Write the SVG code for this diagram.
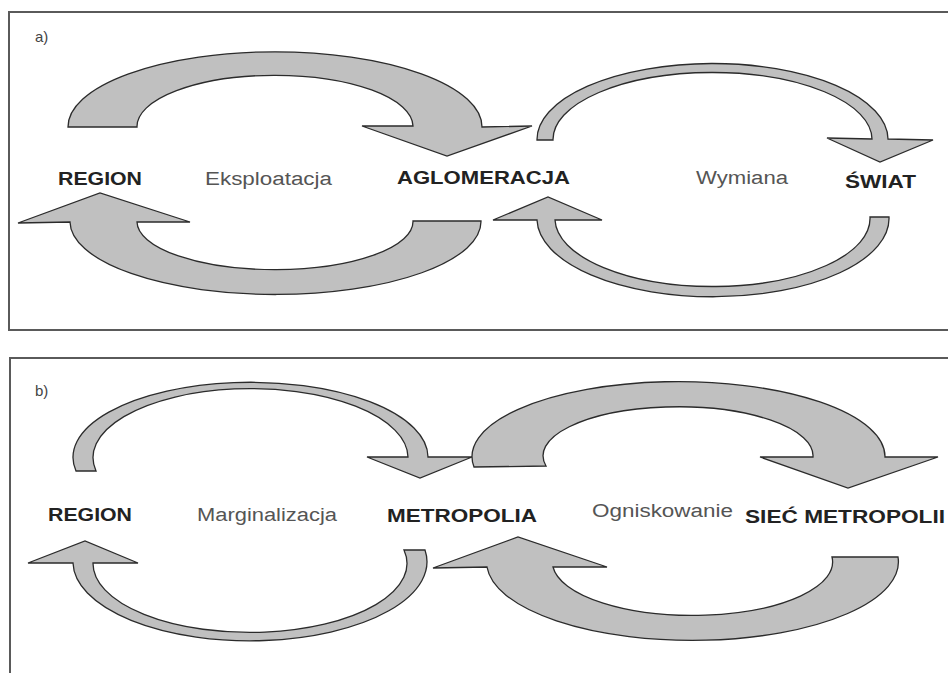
<svg xmlns="http://www.w3.org/2000/svg" width="948" height="673" viewBox="0 0 948 673">
<style>
.frame{fill:none;stroke:#5a5a5a;stroke-width:2}
.arr{fill:#c0c0c0;stroke:#2b2b2b;stroke-width:1.3;stroke-linejoin:miter}
.lbl{font-family:"Liberation Sans",Arial,sans-serif;font-size:15px;fill:#444}
.node{font-family:"Liberation Sans",Arial,sans-serif;font-size:18px;font-weight:bold;fill:#222}
.flow{font-family:"Liberation Sans",Arial,sans-serif;font-size:18px;fill:#555}
</style>
<rect x="0" y="0" width="948" height="673" fill="#ffffff"/>
<g id="panel-a">
<rect class="frame" x="9" y="12" width="960" height="318"/>
<text class="lbl" x="35" y="42">a)</text>
</g>
<g id="panel-b">
<rect class="frame" x="10" y="358" width="960" height="340"/>
<text class="lbl" x="35" y="396">b)</text>
</g>
<g id="connectors">
<path id="a-top-left" class="arr" d="M68,127 A206.5,75 0 0 1 482,127 L532,126 L447,156 L362,126 L413,126 A137.5,51 0 0 0 137,127 Z"/>
<path id="a-bottom-left" class="arr" d="M413,221 L481,221 A205.5,73 0 0 1 70,222 L18,223 L100,193 L190,222 L137,222 A137.5,48 0 0 0 413,221 Z"/>
<path id="a-top-right" class="arr" d="M537,140 A175.5,76 0 0 1 888,139 L933,140 L880,162 L827,138 L872,139 A159.5,67 0 0 0 553,140 Z"/>
<path id="a-bottom-right" class="arr" d="M870,217 L889,217 A175.5,78 0 0 1 537,220 L493,220 L548,197 L602,220 L555,220 A157.5,68 0 0 0 870,217 Z"/>
<path id="b-top-left" class="arr" d="M76,471 A177.5,75 0 1 1 428,457 L472,457 L420,478 L367,457 L408,457 A157.5,69 0 1 0 96,471 Z"/>
<path id="b-top-right" class="arr" d="M474,467 A206.5,75 0 1 1 885,457 L938,457 L848,488 L760,457 L813,457 A135,49 0 1 0 546,466 Z"/>
<path id="b-bottom-left" class="arr" d="M404,550 L425,550 A177,79 0 1 1 73,563 L28,563 L85,541 L138,563 L93,563 A157,69 0 1 0 404,550 Z"/>
<path id="b-bottom-right" class="arr" d="M832,557 L898,557 A205,78 0 0 1 487,567 L433,568 L518,537 L607,567 L553,567 A139,53 0 0 0 832,557 Z"/>
</g>
<g id="a-region"><text class="node" x="58" y="185" textLength="84" lengthAdjust="spacingAndGlyphs">REGION</text></g>
<g id="a-eksploatacja"><text class="flow" x="205" y="185" textLength="127" lengthAdjust="spacingAndGlyphs">Eksploatacja</text></g>
<g id="a-aglomeracja"><text class="node" x="397" y="184" textLength="173" lengthAdjust="spacingAndGlyphs">AGLOMERACJA</text></g>
<g id="a-wymiana"><text class="flow" x="696" y="184" textLength="92" lengthAdjust="spacingAndGlyphs">Wymiana</text></g>
<g id="a-swiat"><text class="node" x="845" y="188" textLength="71" lengthAdjust="spacingAndGlyphs">ŚWIAT</text></g>
<g id="b-region"><text class="node" x="48" y="521" textLength="84" lengthAdjust="spacingAndGlyphs">REGION</text></g>
<g id="b-marginalizacja"><text class="flow" x="197" y="521" textLength="140" lengthAdjust="spacingAndGlyphs">Marginalizacja</text></g>
<g id="b-metropolia"><text class="node" x="387" y="522" textLength="150" lengthAdjust="spacingAndGlyphs">METROPOLIA</text></g>
<g id="b-ogniskowanie"><text class="flow" x="592" y="517" textLength="141" lengthAdjust="spacingAndGlyphs">Ogniskowanie</text></g>
<g id="b-siec"><text class="node" x="745" y="523" textLength="200" lengthAdjust="spacingAndGlyphs">SIEĆ METROPOLII</text></g>
</svg>
